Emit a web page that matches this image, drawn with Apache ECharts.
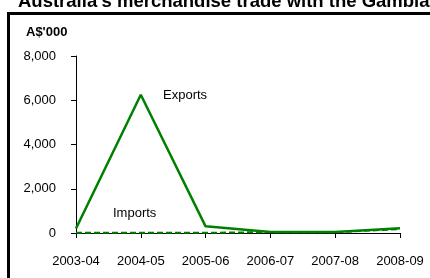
<!DOCTYPE html>
<html>
<head>
<meta charset="utf-8">
<script src="https://cdn.jsdelivr.net/npm/echarts@6/dist/echarts.min.js"></script>
<style>
  html, body { margin: 0; padding: 0; background: #fff; }
  #chart-container { width: 430px; height: 278px; }
</style>
</head>
<body>
<div id="chart-container"></div>
<script>
var years = ['2003-04', '2004-05', '2005-06', '2006-07', '2007-08', '2008-09'];
var exportsData = [200, 6250, 300, 50, 40, 220];
var importsData = [10, 10, 10, 40, 30, 180];
var yTicks = [0, 2000, 4000, 6000, 8000];

var dom = document.getElementById('chart-container');
var myChart = echarts.init(dom, null, { renderer: 'canvas' });
var font = 'Arial, "Liberation Sans", sans-serif';

var option = {
  animation: false,
  textStyle: { fontFamily: font },
  grid: { left: 76, right: 30, top: 56, bottom: 45 },
  graphic: [
    {
      type: 'rect',
      shape: { x: 8.5, y: 13.5, width: 440, height: 300 },
      style: { fill: null, stroke: '#000', lineWidth: 3 }
    },
    {
      type: 'text',
      left: 18, top: -8,
      style: { text: "Australia's merchandise trade with the Gambia", font: 'bold 18.5px ' + font, fill: '#000' }
    },
    {
      type: 'text',
      left: 26, top: 26,
      style: { text: "A$'000", font: 'bold 13px ' + font, fill: '#000' }
    },
    {
      type: 'text',
      left: 163, top: 89,
      style: { text: 'Exports', font: '13px ' + font, fill: '#000' }
    },
    {
      type: 'text',
      left: 113, top: 207,
      style: { text: 'Imports', font: '13px ' + font, fill: '#000' }
    }
  ],
  xAxis: {
    type: 'category',
    data: years,
    boundaryGap: false,
    axisLine: { lineStyle: { color: '#000', width: 1 } },
    axisTick: { show: true, length: 5, lineStyle: { color: '#000' } },
    axisLabel: { color: '#000', fontSize: 13, margin: 22, fontFamily: font },
    splitLine: { show: false }
  },
  yAxis: {
    type: 'value',
    min: yTicks[0],
    max: yTicks[yTicks.length - 1],
    interval: 2000,
    axisLine: { show: true, lineStyle: { color: '#000', width: 1 } },
    axisTick: { show: true, length: 5, lineStyle: { color: '#000' } },
    axisLabel: {
      color: '#000', fontSize: 13, margin: 20, fontFamily: font,
      formatter: function (v) { return v.toLocaleString('en-US'); }
    },
    splitLine: { show: false }
  },
  series: [
    {
      name: 'Imports',
      type: 'line',
      data: importsData,
      symbol: 'none',
      lineStyle: { color: '#008000', width: 2, type: [6, 3] }
    },
    {
      name: 'Exports',
      type: 'line',
      data: exportsData,
      symbol: 'none',
      lineStyle: { color: '#008000', width: 2.5 }
    }
  ]
};

myChart.setOption(option);
window.addEventListener('resize', myChart.resize);
</script>
</body>
</html>
